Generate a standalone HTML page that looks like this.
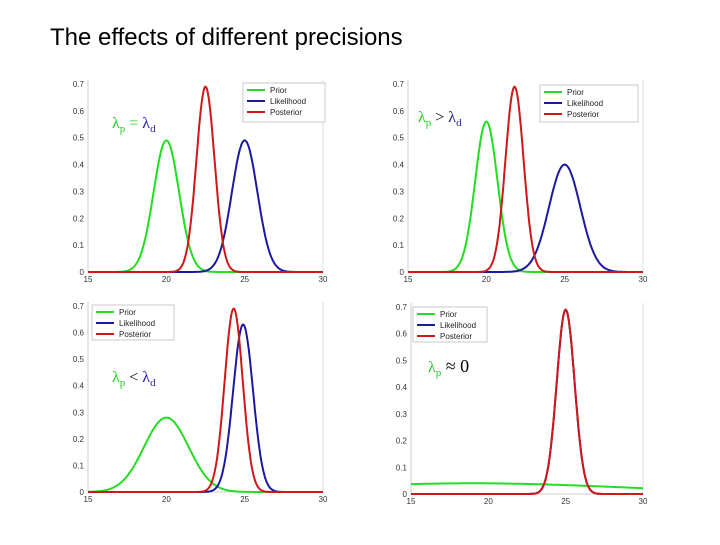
<!DOCTYPE html>
<html><head><meta charset="utf-8"><style>
body{margin:0;background:#fff;width:720px;height:540px;overflow:hidden;font-family:"Liberation Sans",sans-serif}
</style></head><body>
<svg width="720" height="540">
<text x="50" y="45" font-size="24" fill="#000">The effects of different precisions</text>
<g id="root"></g>
</svg>
<script>
// panel data: [mean, sd] for prior, likelihood, posterior
const panelNames=['equal-precision','prior-greater','prior-less','prior-zero'];
const priorMean=[20,20,20,19];
const priorPeak=[0.49,0.56,0.28,0.04];
const likMean=[25,25,24.9,25];
const likPeak=[0.49,0.40,0.63,0.69];
const postMean=[22.5,21.8,24.3,25];
const postPeak=[0.69,0.69,0.69,0.69];
const xTicks=[15,20,25,30];
const yTicks=[0,0.1,0.2,0.3,0.4,0.5,0.6,0.7];
const seriesNames=['Prior','Likelihood','Posterior'];
const colors=['#22dd22','#1a1aa0','#d01818'];
const boxes=[[88,84,323,272],[408,84,643,272],[88,306,323,492],[411,307,643,494]];
const legends=[[243,83,82,39],[540,85,98,37],[92,305,82,35],[413,307,74,35]];
const labels=[
 [112,128,'<tspan fill="#22cc22">λ<tspan font-size="11" dy="4">p</tspan></tspan><tspan dy="-4" fill="#22cc22"> = </tspan><tspan fill="#2222a0">λ<tspan font-size="11" dy="4">d</tspan></tspan>'],
 [418,122,'<tspan fill="#22cc22">λ<tspan font-size="11" dy="4">p</tspan></tspan><tspan dy="-4" fill="#000"> &gt; </tspan><tspan fill="#2222a0">λ<tspan font-size="11" dy="4">d</tspan></tspan>'],
 [112,382,'<tspan fill="#22cc22">λ<tspan font-size="11" dy="4">p</tspan></tspan><tspan dy="-4" fill="#000"> &lt; </tspan><tspan fill="#2222a0">λ<tspan font-size="11" dy="4">d</tspan></tspan>'],
 [428,372,'<tspan fill="#22cc22">λ<tspan font-size="11" dy="4">p</tspan></tspan><tspan dy="-4" fill="#000" font-size="18"> ≈ 0</tspan>']
];
const NS='http://www.w3.org/2000/svg';
const root=document.getElementById('root');
function mk(t,a,p){const e=document.createElementNS(NS,t);for(const k in a)e.setAttribute(k,a[k]);(p||root).appendChild(e);return e;}
function dens(x,m,pk){const sd=1/(pk*Math.sqrt(2*Math.PI));return pk*Math.exp(-0.5*((x-m)/sd)**2);}
boxes.forEach((b,i)=>{
 const [x0,y0,x1,y1]=b;
 const g=mk('g',{});
 
 
 const sx=v=>x0+(v-15)/15*(x1-x0), sy=v=>y1-v/0.7*(y1-y0);
 const ax=mk('line',{x1:x0,y1:y0-4,x2:x0,y2:y1,stroke:'#ccc','stroke-width':1},g);
 
 const bx=mk('line',{x1:x0,y1:y1,x2:x1,y2:y1,stroke:'#ccc','stroke-width':1},g);
 
 mk('line',{x1:x1,y1:y0-4,x2:x1,y2:y1,stroke:'#ddd','stroke-width':1},g);
 yTicks.forEach(v=>{const t=mk('text',{x:x0-4,y:sy(v)+3,'font-size':8,'text-anchor':'end',fill:'#333'},g);t.textContent=v===0?'0':v.toFixed(1);
  });
 xTicks.forEach(v=>{const t=mk('text',{x:sx(v),y:y1+10,'font-size':8,'text-anchor':'middle',fill:'#333'},g);t.textContent=v;
  });
 const params=[[priorMean[i],priorPeak[i]],[likMean[i],likPeak[i]],[postMean[i],postPeak[i]]];
 params.forEach((p,s)=>{let d='';for(let k=0;k<=300;k++){const x=15+k*0.05;d+=(k?'L':'M')+sx(x).toFixed(1)+','+sy(dens(x,p[0],p[1])).toFixed(1);}
  const c=mk('path',{d:d,fill:'none',stroke:colors[s],'stroke-width':2},g);
  });
 const [lx,ly,lw,lh]=legends[i];
 const lg=mk('g',{},g);
 
 mk('rect',{x:lx,y:ly,width:lw,height:lh,fill:'#fff',stroke:'#bbb','stroke-width':0.8},lg);
 seriesNames.forEach((n,s)=>{const yy=ly+7+s*11;
  mk('line',{x1:lx+4,y1:yy,x2:lx+22,y2:yy,stroke:colors[s],'stroke-width':2},lg);
  const t=mk('text',{x:lx+27,y:yy+3,'font-size':8,fill:'#222'},lg);t.textContent=n;
  });
 const lt=mk('text',{x:labels[i][0],y:labels[i][1],'font-size':16,'font-family':'Liberation Serif, serif'},g);
 lt.innerHTML=labels[i][2];
 
});
</script>
</body></html>
